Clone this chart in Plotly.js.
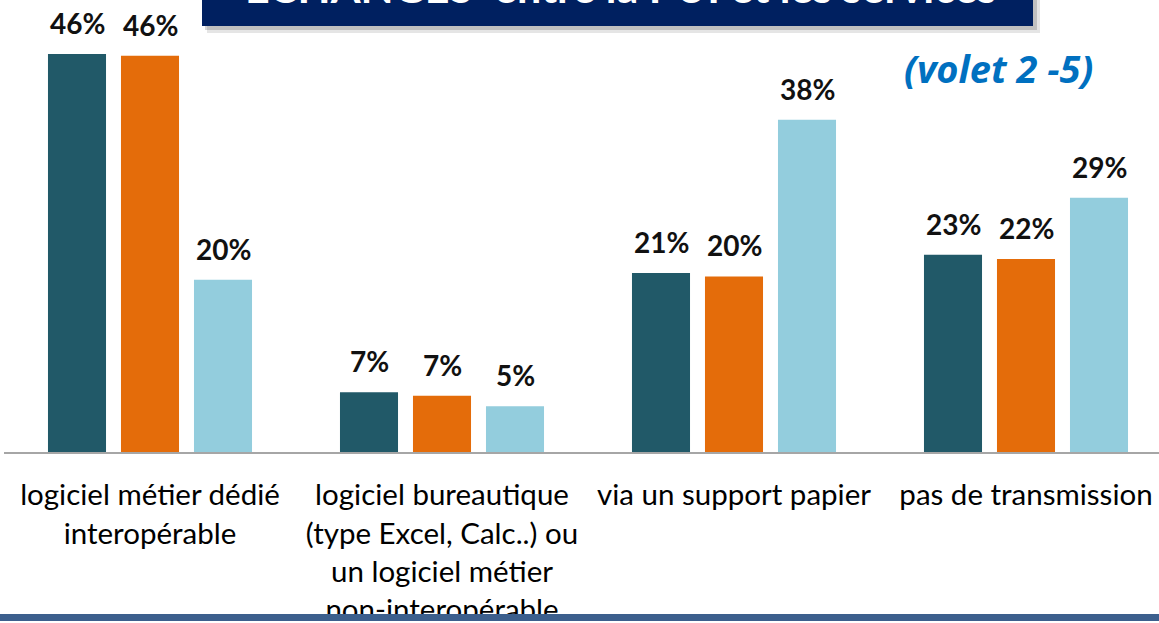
<!DOCTYPE html>
<html>
<head>
<meta charset="utf-8">
<script src="https://cdn.plot.ly/plotly-3.0.1.min.js"></script>
<style>
html,body{margin:0;padding:0;background:#fff;overflow:hidden;}
#chart{width:1159px;height:623px;}
</style>
</head>
<body>
<div id="chart"></div>
<script>
// ---- data ----
const categories = [
  "logiciel métier dédié<br>interopérable",
  "logiciel bureautique<br>(type Excel, Calc..) ou<br>un logiciel métier<br>non-interopérable",
  "via un support papier",
  "pas de transmission"
];
const seriesNames = ["Série 1", "Série 2", "Série 3"];
const series1 = [46.0, 6.9, 20.7, 22.8];
const series2 = [45.8, 6.5, 20.3, 22.3];
const series3 = [19.9, 5.3, 38.4, 29.4];
const labels1 = ["46%", "7%", "21%", "23%"];
const labels2 = ["46%", "7%", "20%", "22%"];
const labels3 = ["20%", "5%", "38%", "29%"];
const titleText = "ECHANGES  entre la PUI et les services";
const subtitleText = "(volet 2 -5)";

// ---- layout helpers ----
const W = 1159, H = 623;
const M = {l: 4, r: 0, t: 0, b: 171};
const px2x = p => (p - M.l) / (W - M.l - M.r);
const px2y = p => (H - M.b - p) / (H - M.t - M.b);

const colors = ["#215968", "#E46C0A", "#93CDDD"];
const allVals = [series1, series2, series3];
const allLabels = [labels1, labels2, labels3];

const traces = allVals.map((vals, i) => ({
  type: "bar",
  name: seriesNames[i],
  x: categories,
  y: vals,
  marker: {color: colors[i]},
  hoverinfo: "skip"
}));

const annotations = [];
allVals.forEach((vals, i) => {
  vals.forEach((v, j) => {
    annotations.push({
      x: categories[j], y: v, xref: "x", yref: "y",
      text: "<b>" + allLabels[i][j] + "</b>", showarrow: false,
      xanchor: "center", yanchor: "bottom",
      xshift: (i - 1) * 73, yshift: 12,
      font: {family: "Lato, sans-serif", size: 28, color: "#111111"}
    });
  });
});
annotations.push({
  xref: "paper", yref: "paper", x: px2x(998), y: px2y(68),
  text: "<b><i>" + subtitleText + "</i></b>", showarrow: false,
  xanchor: "center", yanchor: "middle",
  font: {family: "'Open Sans', sans-serif", size: 38, color: "#0070C0"}
});
annotations.push({
  xref: "paper", yref: "paper", x: px2x(620), y: px2y(-13),
  text: "<b>" + titleText + "</b>", showarrow: false,
  xanchor: "center", yanchor: "middle",
  font: {family: "Lato, sans-serif", size: 43, color: "#ffffff"}
});

const shapes = [
  // title box shadow
  {type: "rect", xref: "paper", yref: "paper", x0: px2x(207), x1: px2x(1040), y0: px2y(-30), y1: px2y(33),
   fillcolor: "rgba(0,0,0,0.10)", line: {width: 0}, layer: "above"},
  {type: "rect", xref: "paper", yref: "paper", x0: px2x(205), x1: px2x(1037), y0: px2y(-30), y1: px2y(30),
   fillcolor: "rgba(0,0,0,0.16)", line: {width: 0}, layer: "above"},
  // title box
  {type: "rect", xref: "paper", yref: "paper", x0: px2x(202), x1: px2x(1033), y0: px2y(-30), y1: px2y(26),
   fillcolor: "#002060", line: {width: 0}, layer: "above"},
  // bottom band
  {type: "rect", xref: "paper", yref: "paper", x0: px2x(0), x1: px2x(W), y0: px2y(614), y1: px2y(621),
   fillcolor: "#3C5F8D", line: {width: 0}, layer: "above"},
  {type: "rect", xref: "paper", yref: "paper", x0: px2x(0), x1: px2x(W), y0: px2y(621), y1: px2y(630),
   fillcolor: "#ffffff", line: {width: 0}, layer: "above"}
];

const layout = {
  width: W, height: H,
  margin: M,
  paper_bgcolor: "#ffffff",
  plot_bgcolor: "#ffffff",
  showlegend: false,
  barmode: "group",
  bargap: 0.25,
  bargroupgap: 0.205,
  xaxis: {
    range: [-0.5, -0.5 + (W - M.l - M.r) / 292],
    showline: true, linecolor: "#A6A6A6", linewidth: 2,
    ticks: "", showgrid: false, zeroline: false,
    tickfont: {family: "Lato, sans-serif", size: 29.5, color: "#000000"},
    ticklabelstandoff: 16,
    fixedrange: true
  },
  yaxis: {
    range: [0, (H - M.t - M.b) / 8.65],
    visible: false, showgrid: false, zeroline: false, fixedrange: true
  },
  annotations: annotations,
  shapes: shapes
};

Plotly.newPlot("chart", traces, layout, {displayModeBar: false, staticPlot: true});
</script>
</body>
</html>
